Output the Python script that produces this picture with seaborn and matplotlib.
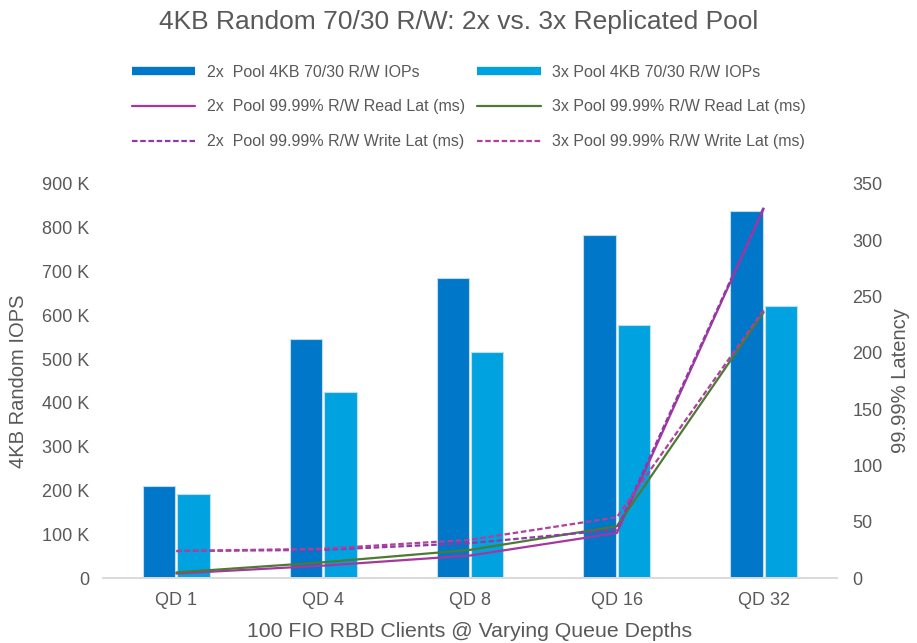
import numpy as np
import pandas as pd
import matplotlib
matplotlib.use("Agg")
import matplotlib.pyplot as plt
from matplotlib.lines import Line2D
from matplotlib.ticker import FuncFormatter, MultipleLocator
import seaborn as sns

# Queue depth categories
categories = ["QD 1", "QD 4", "QD 8", "QD 16", "QD 32"]

# 4KB 70/30 random IOPS per pool
iops_2x = [210000, 546000, 685000, 783000, 839000]
iops_3x = [191000, 425000, 516000, 578000, 622000]

# 99.99% latency (ms)
read_lat_2x = [4, 11, 20, 40, 328]
read_lat_3x = [5, 14, 25, 46, 236]
write_lat_2x = [24, 25, 31, 43, 329]
write_lat_3x = [24, 26, 34, 54, 238]

bar_labels = ["2x  Pool 4KB 70/30 R/W IOPs", "3x Pool 4KB 70/30 R/W IOPs"]
line_labels = ["2x  Pool 99.99% R/W Read Lat (ms)", "3x Pool 99.99% R/W Read Lat (ms)",
               "2x  Pool 99.99% R/W Write Lat (ms)", "3x Pool 99.99% R/W Write Lat (ms)"]

c_bar2, c_bar3 = "#0077C8", "#00A3E0"
c_r2, c_r3, c_w2, c_w3 = "#A5379E", "#4E7A33", "#9038A8", "#B0409C"
text_c = "#595959"
dash = (0, (2.5, 1.2))

sns.set_theme(style="white")
plt.rcParams["font.family"] = ["Liberation Sans", "DejaVu Sans"]

fig = plt.figure(figsize=(9.17, 6.43), dpi=100)
ax = fig.add_axes([0.1123, 0.101, 0.8005, 0.613])

bars = pd.DataFrame({
    "qd": categories * 2,
    "iops": iops_2x + iops_3x,
    "pool": [bar_labels[0]] * 5 + [bar_labels[1]] * 5,
})
sns.barplot(data=bars, x="qd", y="iops", hue="pool", order=categories,
            hue_order=bar_labels, palette=[c_bar2, c_bar3], saturation=1,
            width=0.47, gap=0.06, edgecolor="#BFDDF2", linewidth=0.8,
            legend=False, ax=ax)

ax.set_xlim(-0.5, 4.5)
ax.set_ylim(0, 900000)
ax.yaxis.set_major_locator(MultipleLocator(100000))
ax.yaxis.set_major_formatter(FuncFormatter(lambda v, p: "0" if v == 0 else f"{v/1000:.0f} K"))
ax.set_xlabel("100 FIO RBD Clients @ Varying Queue Depths", fontsize=15.3,
              color=text_c, labelpad=9.5)
ax.set_ylabel("4KB Random IOPS", fontsize=14.5, color=text_c, labelpad=10)
ax.tick_params(axis="both", labelsize=13, colors=text_c, length=0, pad=10)

ax2 = ax.twinx()
x = np.arange(len(categories))
series = [
    (read_lat_2x, c_r2, "-"),
    (read_lat_3x, c_r3, "-"),
    (write_lat_2x, c_w2, dash),
    (write_lat_3x, c_w3, dash),
]
for vals, col, ls in series:
    sns.lineplot(x=x, y=vals, color=col, linewidth=1.6, ax=ax2, legend=False)
    ax2.lines[-1].set_linestyle(ls)

ax2.set_ylim(0, 350)
ax2.yaxis.set_major_locator(MultipleLocator(50))
ax2.set_ylabel("99.99% Latency", fontsize=14.5, color=text_c, labelpad=6)
ax2.tick_params(axis="y", labelsize=13, colors=text_c, length=0, pad=11)
ax.set_xlim(-0.5, 4.5)

for a in (ax, ax2):
    for s in ("top", "left", "right"):
        a.spines[s].set_visible(False)
    a.spines["bottom"].set_color("#D9D9D9")
    a.spines["bottom"].set_linewidth(1.2)
    a.grid(False)

fig.suptitle("4KB Random 70/30 R/W: 2x vs. 3x Replicated Pool", fontsize=19,
             color=text_c, y=0.985)

handles = [
    Line2D([], [], color=c_bar2, lw=6, solid_capstyle="butt"),
    Line2D([], [], color=c_r2, lw=1.6),
    Line2D([], [], color=c_w2, lw=1.6, ls=dash),
    Line2D([], [], color=c_bar3, lw=6, solid_capstyle="butt"),
    Line2D([], [], color=c_r3, lw=1.6),
    Line2D([], [], color=c_w3, lw=1.6, ls=dash),
]
labels = [bar_labels[0], line_labels[0], line_labels[2],
          bar_labels[1], line_labels[1], line_labels[3]]
leg = fig.legend(handles, labels, ncol=2, loc="upper center", bbox_to_anchor=(0.511, 0.922),
                 frameon=False, fontsize=11.5, handlelength=4.0, handletextpad=0.7,
                 columnspacing=0.75, labelspacing=1.25, labelcolor=text_c)

fig.savefig("out.png", dpi=100)
